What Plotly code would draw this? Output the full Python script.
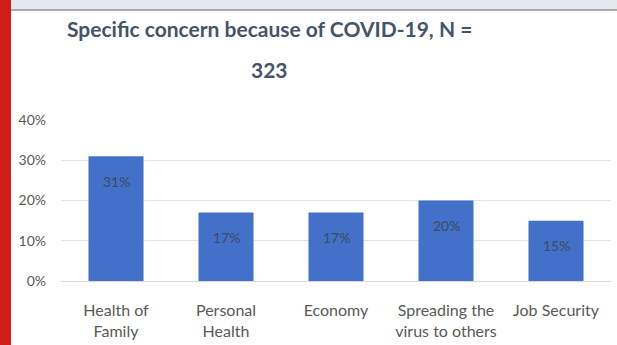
import plotly.graph_objects as go

categories = ["Health of<br>Family", "Personal<br>Health", "Economy", "Spreading the<br>virus to others", "Job Security"]
values = [0.31, 0.17, 0.17, 0.20, 0.15]
y_tickvals = [0, 0.1, 0.2, 0.3, 0.4]
title_line1 = "Specific concern because of COVID-19, N ="
title_line2 = "323"

W, H = 617, 345
ML, MR, MT, MB = 61, 6, 120, 64
PW = W - ML - MR
PH = H - MT - MB

def px_x(px):
    return (px - ML) / PW

def px_y(py):
    return (H - MB - py) / PH

fig = go.Figure()
fig.add_trace(go.Bar(
    x=categories, y=values, width=0.5,
    marker=dict(color="#4370c9", line=dict(width=0)),
    hoverinfo="skip",
))

for c, v in zip(categories, values):
    fig.add_annotation(x=c, y=v, xref="x", yref="y", text=f"{v:.0%}", showarrow=False,
                       yshift=-25, font=dict(family="Lato", size=14, color="#3e4a5c"))

title_font = dict(family="Lato", size=21, color="#44546a")
fig.add_annotation(x=px_x(269), y=px_y(29), xref="paper", yref="paper", text=f"<b>{title_line1}</b>",
                   showarrow=False, font=title_font, xanchor="center", yanchor="middle")
fig.add_annotation(x=px_x(269), y=px_y(69), xref="paper", yref="paper", text=f"<b>{title_line2}</b>",
                   showarrow=False, font=title_font, xanchor="center", yanchor="middle")

shapes = [
    dict(type="rect", xref="paper", yref="paper", x0=px_x(0), x1=px_x(W), y0=px_y(0), y1=px_y(9),
         fillcolor="#e4e9f0", line=dict(width=0), layer="above"),
    dict(type="rect", xref="paper", yref="paper", x0=px_x(0), x1=px_x(W), y0=px_y(9), y1=px_y(11),
         fillcolor="#aaaaaa", line=dict(width=0), layer="above"),
    dict(type="rect", xref="paper", yref="paper", x0=px_x(0), x1=px_x(11), y0=px_y(0), y1=px_y(H),
         fillcolor="#d01f14", line=dict(width=0), layer="above"),
]

fig.update_layout(
    width=W, height=H,
    margin=dict(l=ML, r=MR, t=MT, b=MB, autoexpand=False),
    paper_bgcolor="white", plot_bgcolor="white",
    showlegend=False,
    shapes=shapes,
    bargap=0.5,
)
fig.update_yaxes(range=[0, 0.4], tickvals=y_tickvals, tickformat=".0%", automargin=False,
                 showgrid=True, gridcolor="#dde2ea", gridwidth=1,
                 zeroline=True, zerolinecolor="#d6dbe3", zerolinewidth=1,
                 showline=False, ticks="", ticklabelstandoff=14,
                 tickfont=dict(family="Lato", size=14, color="#595959"))
fig.update_xaxes(showgrid=False, showline=False, ticks="", ticklabelstandoff=18, automargin=False,
                 tickfont=dict(family="Lato", size=16, color="#595959"))

fig.write_html("out.html", config={"displayModeBar": False},
               post_script="document.body.style.margin='0';document.body.style.overflow='hidden';")
